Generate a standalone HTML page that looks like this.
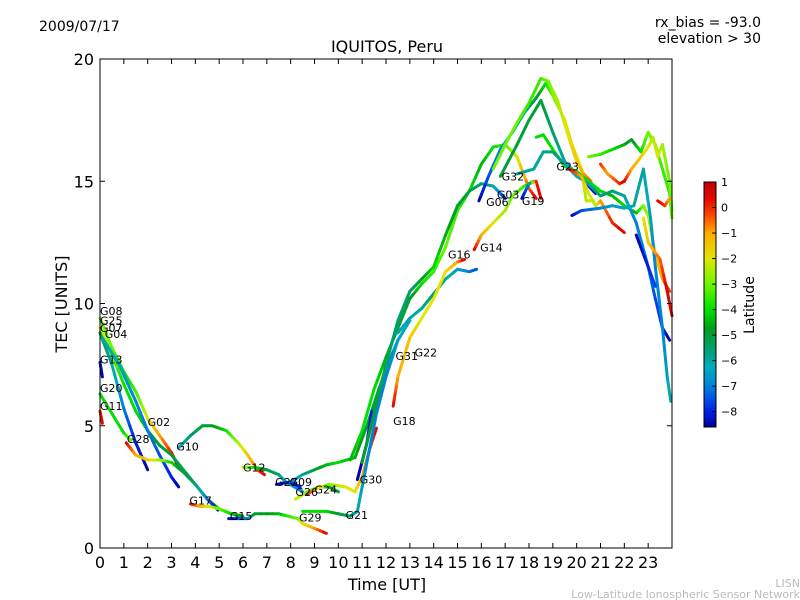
<!DOCTYPE html>
<html><head><meta charset="utf-8"><style>
html,body{margin:0;padding:0;background:#fff;}
svg{display:block;font-family:"DejaVu Sans","Liberation Sans",sans-serif;}
</style></head><body>
<svg id="chart" width="800" height="600" viewBox="0 0 800 600">
<defs>
<linearGradient id="cbg" x1="0" y1="1" x2="0" y2="0"></linearGradient>
</defs>
<text x="39" y="31" font-size="14">2009/07/17</text>
<text x="761" y="27" font-size="14" text-anchor="end">rx_bias = -93.0</text>
<text x="761" y="43" font-size="14" text-anchor="end">elevation &gt; 30</text>
<text x="387" y="52" font-size="16" text-anchor="middle">IQUITOS, Peru</text>
<g id="tracks"></g>
<g id="labels"></g>
<rect x="100" y="59" width="572" height="489" fill="none" stroke="#000" stroke-width="1"/>
<g id="axes"></g>
<text x="387" y="590" font-size="16" text-anchor="middle">Time [UT]</text>
<text transform="translate(67,304) rotate(-90)" font-size="16" text-anchor="middle">TEC [UNITS]</text>
<rect x="704" y="182" width="12" height="245" fill="url(#cbg)" stroke="#000"/>
<g id="cbticks"></g>
<text transform="translate(754,305) rotate(-90)" font-size="14" text-anchor="middle">Latitude</text>
<text x="800" y="587" font-size="11" fill="#bbb" text-anchor="end">LISN</text>
<text x="800" y="598" font-size="11" fill="#bbb" text-anchor="end">Low-Latitude Ionospheric Sensor Network</text>
</svg>
<script>
// tracks: [hour, TEC, latitude]
const trackNames = ["G08","G25","G07","G04","G13","G20","G11","G28","G10","G12","G27","G09","G26","G24","G15","G21","G17","G30","R1","R2","G16a","G16b","G14","G06","P1","P3","P4","P5","G19","G23","E1","E2","E3","E4","E5","E6"];
const trackPoints = [
 [[0,9.4,-3],[0.5,8.2,-3],[1,7.2,-4],[1.5,6.4,-3.5],[2,5.3,-2],[2.5,4.6,-1],[3,3.9,0],[3.3,3.3,1]],
 [[0,9.0,-2],[0.5,7.9,-3],[1,6.7,-4],[1.5,5.6,-4],[2,4.8,-4.5],[2.5,4.2,-5],[3,3.8,-5],[3.5,3.2,-5.5],[4,2.6,-5],[4.5,2.0,-5],[5,1.6,-4],[5.5,1.4,-4]],
 [[0,8.8,-5],[0.5,7.5,-6],[1,5.7,-7],[1.5,4.3,-8],[2,3.2,-8.5]],
 [[0.1,8.6,-6],[0.8,7.5,-6.5],[1.5,6.0,-7],[2,4.8,-7],[2.5,3.8,-7.5],[3,2.9,-8],[3.3,2.5,-8.5]],
 [[0,7.6,-8],[0.1,7.0,-8.5]],
 [[0,6.3,-4],[0.5,5.5,-4],[1,4.7,-4],[1.3,4.4,-3]],
 [[0,5.6,0],[0.1,5.1,0.5]],
 [[1.1,4.3,0.5],[1.5,3.8,-1],[2,3.6,-1.5],[2.5,3.6,-2.5],[3,3.5,-4],[3.5,3.1,-5],[4,2.6,-5.5],[4.5,2.0,-7],[4.95,1.55,-8.5]],
 [[3.3,4.1,-6.5],[3.8,4.6,-5.5],[4.3,5.0,-5],[4.7,5.0,-5],[5.3,4.8,-4],[5.8,4.3,-2.5],[6.2,3.8,-1.5],[6.6,3.2,-0.5],[6.9,3.0,0.5]],
 [[6.0,3.3,-2],[6.5,3.3,-4],[7,3.2,-5],[7.5,3.0,-5.5],[7.8,2.7,-6.5],[8.5,2.3,-7]],
 [[7.4,2.6,-8.5],[8.0,2.7,-8],[8.4,2.5,-8]],
 [[8.0,2.7,-7],[8.5,3.0,-6],[9,3.2,-5],[9.5,3.4,-4.5],[10,3.5,-4],[10.7,3.7,-4.5],[11.2,5.0,-5],[11.7,6.5,-5],[12.2,7.8,-5.5],[12.5,8.5,-5.5]],
 [[8.2,2.0,-2],[8.7,2.3,-3],[9.2,2.5,-4],[9.6,2.5,-4.5],[10,2.3,-5]],
 [[8.7,2.2,0.5],[9,2.4,-1],[9.6,2.6,-3],[10.3,2.5,-2],[10.7,2.3,-2],[11,2.9,-1],[11.3,4.0,-0.5],[11.6,4.9,0.5]],
 [[5.4,1.2,-8.5],[6.2,1.2,-7],[6.5,1.4,-5],[7.5,1.4,-4.5],[8.3,1.2,-3],[8.5,1.0,-2],[9,0.8,-1],[9.5,0.6,0.5]],
 [[8.5,1.5,-4],[9.5,1.5,-4],[10,1.4,-5],[10.5,1.3,-5.5],[10.8,1.5,-6],[11,2.5,-6.5],[11.3,4,-7],[11.6,5.5,-7],[12,7,-7],[12.5,8.5,-6.5],[13,9.3,-6]],
 [[3.8,1.8,0.5],[4.2,1.7,-1],[4.6,1.7,-2],[5,1.6,-3],[5.5,1.4,-4],[6,1.3,-5]],
 [[10.8,2.8,-8.5],[11.2,4.3,-8.5],[11.4,5.6,-8]],
 [[10.5,3.6,-4.5],[11,4.8,-4],[11.5,6.5,-4],[12,7.8,-4.5],[12.5,9,-5],[13,10.2,-5],[13.5,10.8,-4],[14,11.3,-3.5],[14.5,12.3,-3],[15,13.8,-3.5],[15.5,14.6,-4],[16,15.7,-4.5],[16.5,16.4,-4],[17,16.5,-3.5],[17.5,16.0,-2],[18,14.7,-0.5],[18.3,14.3,0.5]],
 [[11,3.5,-5],[11.5,5.5,-5],[12,7.5,-5.5],[12.5,9.3,-5.5],[13,10.5,-5.5],[13.5,11.0,-5],[14,11.5,-4],[14.5,12.8,-4.5],[15,14.0,-5],[15.5,14.6,-5],[16,14.9,-5.5],[16.5,14.8,-6],[16.8,14.5,-7],[17,14.3,-8]],
 [[12.5,8.8,-6],[13,9.4,-6.5],[13.5,9.8,-6],[14,10.4,-5.5],[14.5,11.0,-6],[15,11.4,-6.5],[15.5,11.3,-7],[15.8,11.4,-7.5]],
 [[12.3,5.8,0.5],[12.5,7.0,-1],[13,8.6,-1.5],[13.5,9.4,-2],[14,10.2,-2],[14.5,11.3,-2],[15,11.7,-1],[15.3,11.8,0.5]],
 [[15.7,12.2,0.5],[16,12.8,-1],[16.5,13.3,-2],[17,13.8,-2.5],[17.3,14.4,-3],[17.8,14.8,-3.5],[18.2,15.0,-4]],
 [[15.9,14.2,-8.5],[16.3,15.2,-7.5],[16.8,16.3,-7],[17.3,17.0,-6.5],[17.8,17.8,-6],[18.3,18.4,-5],[18.7,19.0,-4],[19.0,18.5,-3],[19.5,17.5,-2],[19.8,16.5,-1.5],[20.2,15.5,-2],[20.4,14.2,-2.5],[20.7,14.2,-2]],
 [[16.5,15.5,-3],[17,16.5,-3],[17.5,17.4,-3],[18,18.2,-3.5],[18.5,19.2,-3.5],[18.8,19.1,-3],[19.2,18.3,-2.5],[19.6,17.0,-2],[20,15.8,-1.5],[20.3,15.3,-1],[20.6,15.0,-0.5]],
 [[16.8,15.2,-5],[17.5,16.5,-5],[18,17.5,-5],[18.5,18.3,-5],[19,17.0,-5.5],[19.5,15.8,-6],[20,15.3,-6.5],[20.5,14.8,-7.5],[20.8,14.5,-8.5]],
 [[18.3,16.8,-4],[18.6,16.9,-4],[19,16.3,-4],[19.5,15.6,-4],[20,15.4,-4],[20.5,15.0,-4],[21,14.6,-4],[21.5,14.4,-4.5],[22,14.0,-4],[22.5,13.7,-4.5],[22.8,14.0,-3],[23,13.6,-2.5],[23.3,12.0,-1.5],[23.6,11.0,-1],[23.9,10.5,0]],
 [[17.5,15.3,-6],[18.2,15.5,-6],[18.6,16.2,-6],[19,16.2,-5.5],[19.5,15.7,-6],[20,15.2,-6.5],[20.5,14.9,-6],[21,14.4,-5.5],[21.5,14.6,-5.5],[22,14.4,-6],[22.5,13.3,-7],[23,11.5,-7],[23.3,10.2,-7.5],[23.6,9.0,-8],[23.9,8.5,-8.5]],
 [[17.7,14.3,-8.5],[18,14.9,-7],[18.3,15.0,0],[18.5,14.3,0.5]],
 [[19.7,15.5,0.5],[20.2,15.2,-1],[20.5,14.5,-2],[20.8,14.0,-2.5],[21,14.2,-1],[21.5,13.3,0],[22,12.9,0.5]],
 [[19.8,13.6,-8.5],[20.2,13.8,-7.5],[21,13.9,-7],[21.5,14.0,-6.5],[22,13.9,-6.5],[22.4,14.0,-6],[22.8,15.5,-6],[23.1,13.5,-6.5],[23.3,11.5,-7],[23.6,9.0,-7],[23.8,7,-6.5],[23.95,6,-6]],
 [[20.5,16.0,-3],[21,16.1,-3.5],[21.5,16.3,-4],[22,16.5,-4.5],[22.3,16.7,-5],[22.7,16.2,-4],[23,17.0,-3],[23.3,16.5,-3],[23.6,15.5,-3.5],[23.9,14.5,-3.5],[24,13.5,-3]],
 [[21,15.7,0],[21.3,15.3,-1],[21.8,14.9,0],[22,15.0,0.5],[22.3,15.5,-1],[22.7,16.0,-1.5],[23,16.4,-2],[23.2,16.8,-2.5],[23.4,16.0,-2],[23.6,16.5,-2.5],[23.9,15.0,-3],[24,13.8,-3]],
 [[22.5,12.8,-8.5],[23,11.5,-8],[23.3,10.7,-7.5]],
 [[22.8,13.5,-2],[23,12.5,-1.5],[23.5,11.8,-0.5],[23.8,10.5,0.5],[24,9.5,0.5]],
 [[23.4,14.2,0.5],[23.7,14.0,0],[23.9,14.3,-1]]
];
const labelNames = ["G08","G25","G07","G04","G13","G20","G11","G28","G02","G10","G12","G27","G09","G26","G24","G17","G15","G29","G21","G30","G31","G22","G18","G16","G14","G32","G03","G06","G19","G23"];
const labelHours = [0,0,0,0.2,0,0,0,1.13,2.0,3.2,6.0,7.35,7.95,8.2,9.0,3.75,5.45,8.35,10.3,10.9,12.4,13.2,12.3,14.6,15.95,16.85,16.65,16.2,17.7,19.15];
const labelTec = [9.7,9.3,9.0,8.75,7.7,6.55,5.8,4.45,5.15,4.15,3.3,2.7,2.7,2.3,2.4,1.95,1.3,1.25,1.35,2.8,7.85,8.0,5.2,12.0,12.3,15.2,14.45,14.15,14.2,15.6];
const xTicks = [0,1,2,3,4,5,6,7,8,9,10,11,12,13,14,15,16,17,18,19,20,21,22,23];
const yTicks = [0,5,10,15,20];
const cbTicks = [1,0,-1,-2,-3,-4,-5,-6,-7,-8];

const NS="http://www.w3.org/2000/svg";
const X0=100,X1=672,Y0=548,Y1=59;
const xs=h=>X0+h*(X1-X0)/24;
const ys=t=>Y0-t*(Y0-Y1)/20;
const LMIN=-8.6,LMAX=1;
const cbY=l=>427-(l-LMIN)/(LMAX-LMIN)*245;
const cstops=[[-8.6,[0,0,150]],[-8,[0,30,230]],[-7,[0,130,220]],[-6.3,[0,170,190]],[-5.5,[0,160,110]],[-4.7,[0,160,20]],[-4,[0,225,0]],[-3,[110,245,0]],[-2,[225,230,0]],[-1,[255,170,0]],[-0.3,[250,70,0]],[0.3,[230,10,0]],[1,[190,0,0]]];
function col(l){
 if(l<=cstops[0][0])return 'rgb('+cstops[0][1]+')';
 for(let i=1;i<cstops.length;i++){
  if(l<=cstops[i][0]){const a=cstops[i-1],b=cstops[i];const f=(l-a[0])/(b[0]-a[0]);
   const c=a[1].map((v,k)=>Math.round(v+(b[1][k]-v)*f));return 'rgb('+c.join(',')+')';}
 }
 return 'rgb('+cstops[cstops.length-1][1]+')';
}
const grad=document.getElementById('cbg');
cstops.forEach(s=>{const st=document.createElementNS(NS,'stop');
 st.setAttribute('offset',((s[0]-LMIN)/(LMAX-LMIN)).toFixed(3));st.setAttribute('stop-color',col(s[0]));grad.appendChild(st);});

const tg=document.getElementById('tracks');
trackPoints.forEach((pts,ti)=>{
 const g=document.createElementNS(NS,'g');
 
 
 for(let i=0;i<pts.length-1;i++){
  const a=pts[i],b=pts[i+1],n=4;
  for(let k=0;k<n;k++){
   const f0=k/n,f1=(k+1)/n,fm=(k+0.5)/n;
   const ln=document.createElementNS(NS,'line');
   ln.setAttribute('x1',xs(a[0]+(b[0]-a[0])*f0));ln.setAttribute('y1',ys(a[1]+(b[1]-a[1])*f0));
   ln.setAttribute('x2',xs(a[0]+(b[0]-a[0])*f1));ln.setAttribute('y2',ys(a[1]+(b[1]-a[1])*f1));
   ln.setAttribute('stroke',col(a[2]+(b[2]-a[2])*fm));ln.setAttribute('stroke-width','3');ln.setAttribute('stroke-linecap','round');
   
   
   g.appendChild(ln);
  }
 }
 tg.appendChild(g);
});
const lg=document.getElementById('labels');
labelNames.forEach((n,i)=>{
 const t=document.createElementNS(NS,'text');
 t.setAttribute('x',xs(labelHours[i]));t.setAttribute('y',ys(labelTec[i])+4);
 t.setAttribute('font-size','11');t.textContent=n;
 
 
 lg.appendChild(t);
});
const ag=document.getElementById('axes');
function mk(tag,attrs,txt){const e=document.createElementNS(NS,tag);for(const k in attrs)e.setAttribute(k,attrs[k]);if(txt!==undefined)e.textContent=txt;return e;}
xTicks.forEach(h=>{
 const x=xs(h);
 const t1=mk('line',{x1:x,y1:Y0,x2:x,y2:Y0-5,stroke:'#000'});
 
 
 ag.appendChild(t1);
 const t2=mk('line',{x1:x,y1:Y1,x2:x,y2:Y1+5,stroke:'#000'});
 
 
 ag.appendChild(t2);
 const lb=mk('text',{x:x,y:568,'font-size':16,'text-anchor':'middle'},String(h));
 
 
 ag.appendChild(lb);
});
yTicks.forEach(v=>{
 const y=ys(v);
 const t1=mk('line',{x1:X0,y1:y,x2:X0+5,y2:y,stroke:'#000'});
 
 
 ag.appendChild(t1);
 const t2=mk('line',{x1:X1,y1:y,x2:X1-5,y2:y,stroke:'#000'});
 
 
 ag.appendChild(t2);
 const lb=mk('text',{x:94,y:y+6,'font-size':16,'text-anchor':'end'},String(v));
 
 
 ag.appendChild(lb);
});
const cg=document.getElementById('cbticks');
cbTicks.forEach(v=>{
 const y=cbY(v);
 const t=mk('line',{x1:712,y1:y,x2:716,y2:y,stroke:'#000'});
 
 
 cg.appendChild(t);
 const lb=mk('text',{x:721,y:y+4,'font-size':11},v<0?'\u2212'+(-v):String(v));
 
 
 cg.appendChild(lb);
});
</script>
</body></html>
